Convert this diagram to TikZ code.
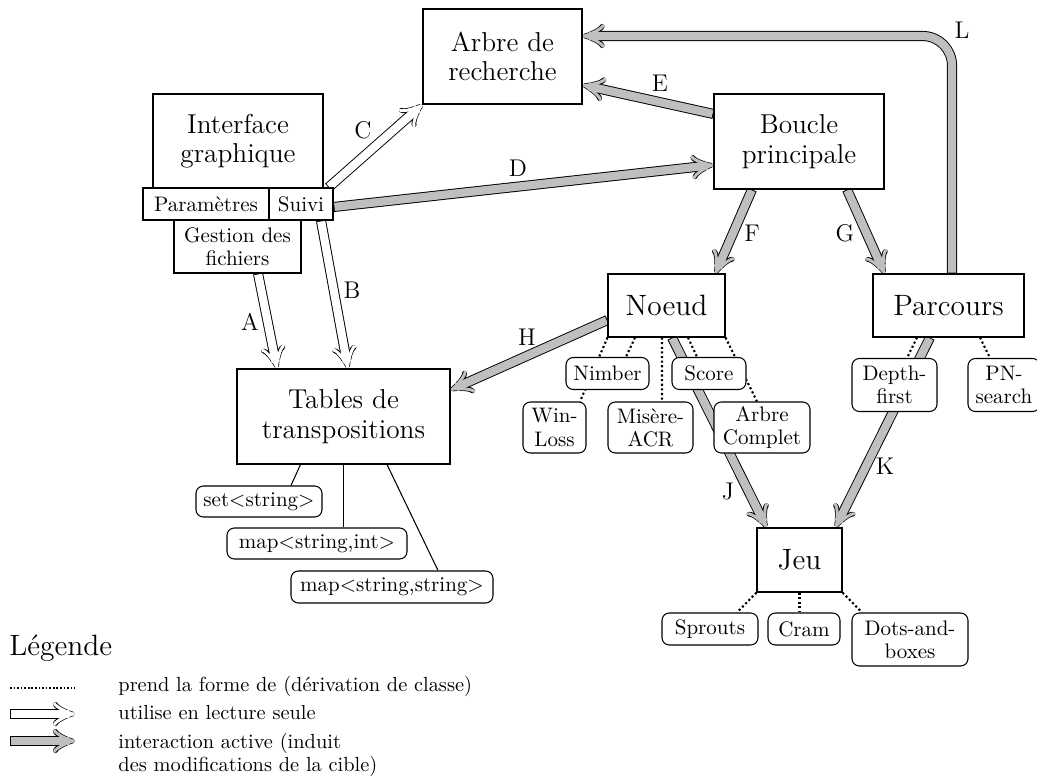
\documentclass[tikz,border=0pt]{standalone}
\usetikzlibrary{arrows.meta,calc,backgrounds}
\begin{document}
\begin{tikzpicture}[x=0.476pt,y=-0.476pt,
  big/.style={draw, fill=white, line width=0.5pt, align=center, font=\fontsize{13}{14}\selectfont, inner sep=0pt},
  bigger/.style={big, font=\fontsize{14}{15}\selectfont},
  sm/.style={draw, fill=white, line width=0.5pt, align=center, font=\fontsize{10}{11}\selectfont, inner sep=0pt},
  rb/.style={sm, rounded corners=3.5pt},
  sz/.style 2 args={minimum width={#1*0.476pt}, minimum height={#2*0.476pt}},
  arrbase/.style={line width=3.9pt, shorten <=0.45pt,
      -{Classical TikZ Rightarrow[length=10.5pt, width=11.5pt, line width=1.4pt]},
      preaction={draw=black, line width=4.8pt, shorten <=0pt,
        -{Classical TikZ Rightarrow[length=10.5pt, width=11.5pt, line width=2.3pt]}}},
  arrW/.style={arrbase, draw=white},
  arrG/.style={arrbase, draw=gray!50},
  isa/.style={line width=1pt, dash pattern=on 1pt off 1.2pt},
  sol/.style={line width=0.5pt},
  lbl/.style={font=\fontsize{11.5}{13}\selectfont, inner sep=0pt},
  legtxt/.style={font=\fontsize{9.7}{10.8}\selectfont, inner sep=0pt, align=left}
]
\useasboundingbox (0,0) rectangle (1037,776);

% main nodes
\node[big, sz={159}{95}] (arbre) at (502.5,56.5) {Arbre de\\recherche};
\node[big, sz={170}{95}] (boucle) at (799,141.5) {Boucle\\principale};
\node[big, sz={170}{94}] (iface) at (238,141) {Interface\\graphique};
\node[sm, sz={126}{32}] (param) at (206,204) {Paramètres};
\node[sm, sz={64}{32}] (suivi) at (301,204) {Suivi};
\node[sm, sz={127}{53}] (gestion) at (237.5,246.5) {Gestion des\\fichiers};
\node[big, sz={213}{95}] (tables) at (343.5,416.5) {Tables de\\transpositions};
\node[bigger, sz={117}{63}] (noeud) at (666.5,305.5) {Noeud};
\node[bigger, sz={151}{63}] (parcours) at (948.5,305.5) {Parcours};
\node[bigger, sz={85}{64}] (jeu) at (799.5,560) {Jeu};

% rounded sub-nodes
\node[rb, sz={83}{32}] (nimber) at (607.5,373.5) {Nimber};
\node[rb, sz={74}{32}] (score) at (709,373.5) {Score};
\node[rb, sz={63}{51}] (winloss) at (554.5,427.5) {Win-\\Loss};
\node[rb, sz={85}{51}] (misere) at (650.5,427.5) {Misère-\\ACR};
\node[rb, sz={96}{51}] (acomplet) at (762,427.5) {Arbre\\Complet};
\node[rb, sz={85}{53}] (depth) at (894.5,385) {Depth-\\first};
\node[rb, sz={72}{53}] (pn) at (1004,385) {PN-\\search};
\node[rb, sz={126}{31}] (set) at (259,501.5) {set<string>};
\node[rb, sz={180}{31}] (mapint) at (317,543.5) {map<string,int>};
\node[rb, sz={202}{32}] (mapstr) at (392,587) {map<string,string>};
\node[rb, sz={96}{32}] (sprouts) at (710,629) {Sprouts};
\node[rb, sz={72}{32}] (cram) at (804,629) {Cram};
\node[rb, sz={116}{53}] (dots) at (910,639.5) {Dots-and-\\boxes};

\begin{scope}[on background layer]
  % solid links
  \draw[sol] ($(tables.south)+(-43,0)$) -- ($(set.north)+(32,0)$);
  \draw[sol] (tables.south) -- (tables.south |- mapint.north);
  \draw[sol] ($(tables.south)+(43.5,0)$) -- ($(mapstr.north)+(46,0)$);
  % dotted links
  \draw[isa] (noeud.south west) -- ($(winloss.north)+(25.5,0)$);
  \draw[isa] ($(noeud.south)+(-31.5,0)$) -- ($(nimber.north)+(18.5,0)$);
  \draw[isa] ($(noeud.south)+(-4.5,0)$) -- ($(misere.north)+(11.5,0)$);
  \draw[isa] ($(noeud.south)+(21.5,0)$) -- ($(score.north)+(-12,0)$);
  \draw[isa] (noeud.south east) -- ($(acomplet.north)+(-5,0)$);
  \draw[isa] ($(parcours.south)+(-31.5,0)$) -- ($(depth.north)+(12.5,0)$);
  \draw[isa] ($(parcours.south)+(31.5,0)$) -- ($(pn.north)+(-14,0)$);
  \draw[isa] (jeu.south west) -- ($(sprouts.north)+(27,0)$);
  \draw[isa] (jeu.south) -- (jeu.south |- cram.north);
  \draw[isa] (jeu.south east) -- ($(dots.north)+(-48,0)$);
  % arrows
  \draw[arrW] ($(gestion.south)+(20.5,0)$) -- ($(tables.north)+(-66.5,0)$);
  \draw[arrW] ($(suivi.south)+(20,0)$) -- ($(tables.north)+(4.5,0)$);
  \draw[arrW] ($(suivi.north east)+(-5,0)$) -- (arbre.south west);
  \draw[arrG] ($(suivi.east)+(0,3)$) -- ($(boucle.west)+(0,23.5)$);
  \draw[arrG] ($(boucle.west)+(0,-27.5)$) -- ($(arbre.east)+(0,28.5)$);
  \draw[arrG] ($(boucle.south)+(-47,0)$) -- ($(noeud.north east)+(-10,0)$);
  \draw[arrG] ($(boucle.south)+(48,0)$) -- ($(parcours.north west)+(12,0)$);
  \draw[arrG] ($(noeud.west)+(0,14.5)$) -- ($(tables.east)+(0,-26.5)$);
  \draw[arrG] ($(noeud.south)+(5.5,0)$) -- ($(jeu.north west)+(10,0)$);
  \draw[arrG] ($(parcours.south)+(-18.5,0)$) -- ($(jeu.north east)+(-7,0)$);
  \draw[arrG, rounded corners=14pt] ($(parcours.north)+(3.5,0)$) |- ($(arbre.east)+(0,-20.5)$);
\end{scope}

% arrow labels
\node[lbl] (lA) at (250,322) {A};
\node[lbl] (lB) at (352,290) {B};
\node[lbl] (lC) at (363,130) {C};
\node[lbl] (lD) at (518,168) {D};
\node[lbl] (lE) at (660,83) {E};
\node[lbl] (lF) at (752,233) {F};
\node[lbl] (lG) at (845,233) {G};
\node[lbl] (lH) at (527,337) {H};
\node[lbl] (lJ) at (728,492) {J};
\node[lbl] (lK) at (885,466) {K};
\node[lbl] (lL) at (962,30) {L};

% legend
\node[anchor=west, font=\fontsize{14}{15}\selectfont, inner sep=0pt] (leg) at (9,648) {Légende};
\coordinate (d1) at (10,688); \coordinate (d2) at (75,688);
\draw[line width=0.8pt, dash pattern=on 0.8pt off 0.9pt] (d1) -- (d2);
\coordinate (w1) at (10,714); \coordinate (w2) at (75,714);
\draw[arrW] (w1) -- (w2);
\coordinate (g1) at (10,741); \coordinate (g2) at (75,741);
\draw[arrG] (g1) -- (g2);
\node[legtxt, anchor=west] (t1) at (118,686) {prend la forme de (dérivation de classe)};
\node[legtxt, anchor=west] (t2) at (118,713) {utilise en lecture seule};
\node[legtxt, anchor=north west] (t3) at (118,733) {interaction active (induit\\des modifications de la cible)};
\end{tikzpicture}
\end{document}
